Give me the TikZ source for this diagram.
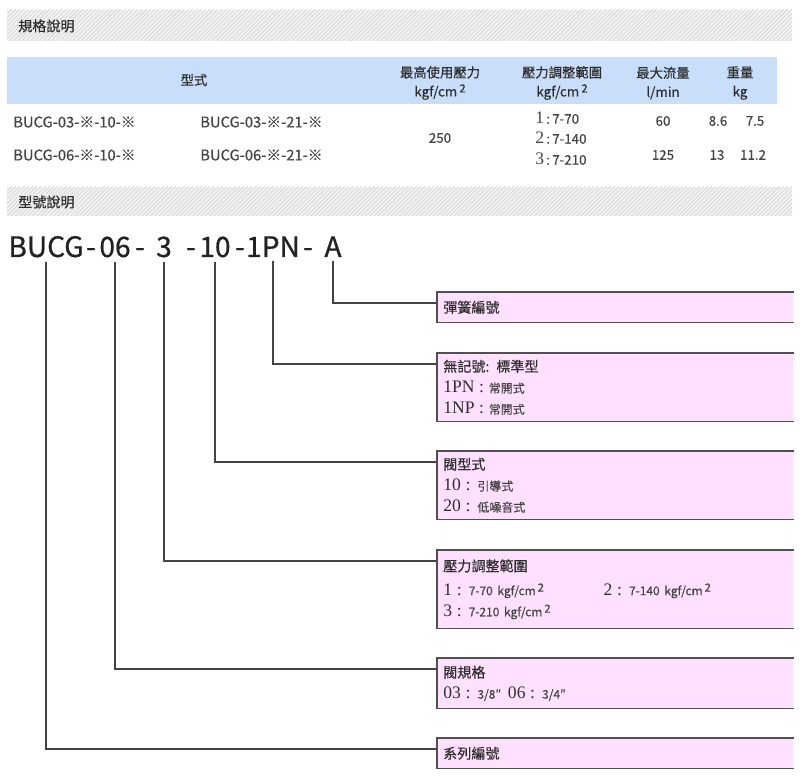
\documentclass[tikz,border=0pt]{standalone}
\usepackage{fontspec}
\setmainfont{Noto Sans CJK TC}[FakeBold=0.35]
\newfontfamily\numfont{Liberation Serif}
\newfontfamily\codefont{Noto Sans CJK TC}[FakeBold=0.8]
\usepackage{tikz}
\usetikzlibrary{positioning, calc, patterns}
\usepackage{xcolor}
\definecolor{hdrblue}{HTML}{C9DEFA}
\definecolor{boxpink}{HTML}{FFE0FE}
\definecolor{bargray}{HTML}{F1F1F1}
\definecolor{txtgray}{HTML}{2E2E2E}
\definecolor{cellgray}{HTML}{444444}
\definecolor{codeblack}{HTML}{222222}
\definecolor{edgegray}{HTML}{505050}
\definecolor{linegray}{HTML}{444444}
\newcommand{\cmsq}{\,\raisebox{0.55ex}{\fontsize{8}{8}\selectfont 2}}
\newcommand{\pfx}[1]{{\numfont\fontsize{12.5}{12.5}\selectfont #1}}
\newcommand{\smalltxt}[1]{{\fontsize{8.5}{10}\selectfont\color{cellgray}#1}}

\begin{document}
\begin{tikzpicture}[x=0.025cm, y=-0.025cm, font=\fontsize{10}{12}\selectfont,
  txt/.style={inner sep=0pt, text=txtgray},
  hdr/.style={txt, align=center, font=\fontsize{9.5}{13.5}\selectfont},
  cell/.style={inner sep=0pt, text=cellgray, font=\fontsize{9.5}{11}\selectfont},
  codepart/.style={inner sep=0pt, inner ysep=3pt, anchor=base, text=codeblack, font=\codefont\fontsize{20}{21}\selectfont},
  sepmark/.style={codepart},
  infobox/.style={fill=boxpink, anchor=north west, inner xsep=0.15cm, inner ysep=0pt,
    text width=8.6cm, align=left, text=txtgray, font=\fontsize{10}{15}\selectfont},
  boxedge/.style={draw=edgegray, line width=1.1pt},
  conn/.style={draw=linegray, line width=0.8pt}]
  \useasboundingbox (0,0) rectangle (800,780);

  % section bar: spec
  \fill[bargray] (7,10) rectangle (792,41);
  \fill[pattern=north east lines, pattern color=gray!35] (7,10) rectangle (792,41);
  \node[txt, anchor=west] (spectitle) at (18,26) {規格說明};

  % table head
  \fill[hdrblue] (7,57) rectangle (777,104);
  \node[hdr] (hmodel) at (194,80) {型式};
  \node[hdr] (hpress) at (440,83) {最高使用壓力\\kgf/cm\cmsq};
  \node[hdr] (hrange) at (562,83) {壓力調整範圍\\kgf/cm\cmsq};
  \node[hdr] (hflow) at (663,83) {最大流量\\l/min};
  \node[hdr] (hweight) at (740,83) {重量\\kg};

  % table body
  \node[cell, anchor=west, font=\fontsize{10.5}{12}\selectfont] (m1) at (13,122) {BUCG-03-※-10-※};
  \node[cell, anchor=west, font=\fontsize{10.5}{12}\selectfont] (m2) at (200,122) {BUCG-03-※-21-※};
  \node[cell, anchor=west, font=\fontsize{10.5}{12}\selectfont] (m3) at (13,155) {BUCG-06-※-10-※};
  \node[cell, anchor=west, font=\fontsize{10.5}{12}\selectfont] (m4) at (200,155) {BUCG-06-※-21-※};
  \node[cell] (pmax) at (440,138) {250};
  \node[cell, anchor=west] (r1) at (535,118) {\pfx{1}\,:\,7-70};
  \node[cell, anchor=west] (r2) at (535,138) {\pfx{2}\,:\,7-140};
  \node[cell, anchor=west] (r3) at (535,159) {\pfx{3}\,:\,7-210};
  \node[cell] (f1) at (663,121) {60};
  \node[cell] (f2) at (663,155) {125};
  \node[cell] (w1) at (718,121) {8.6};
  \node[cell] (w2) at (755,121) {7.5};
  \node[cell] (w3) at (717,155) {13};
  \node[cell] (w4) at (753,155) {11.2};

  % section bar: code
  \fill[bargray] (7,187) rectangle (792,216);
  \fill[pattern=north east lines, pattern color=gray!35] (7,187) rectangle (792,216);
  \node[txt, anchor=west] (codetitle) at (18,202) {型號說明};

  % model code
  \node[codepart] (pseries) at (46,257) {BUCG};
  \node[sepmark] at (91,257) {-};
  \node[codepart] (psize) at (115,257) {06};
  \node[sepmark] at (140,257) {-};
  \node[codepart] (prange) at (164,257) {3};
  \node[sepmark] at (191,257) {-};
  \node[codepart] (ptype) at (215,257) {10};
  \node[sepmark] at (240,257) {-};
  \node[codepart] (pspool) at (273,257) {1PN};
  \node[sepmark] at (308,257) {-};
  \node[codepart] (pspring) at (333,257) {A};

  % explanation boxes
  \node[infobox, minimum height=0.75cm] (bspring) at (437,292) {彈簧編號};
  \node[infobox, minimum height=1.7cm] (bspool) at (437,353)
    {無記號: 標準型\\ \pfx{1PN :} \smalltxt{常開式}\\ \pfx{1NP :} \smalltxt{常開式}};
  \node[infobox, minimum height=1.7cm] (btype) at (437,451)
    {閥型式\\ \pfx{10 :} \smalltxt{引導式}\\ \pfx{20 :} \smalltxt{低噪音式}};
  \node[infobox, minimum height=1.95cm] (brange) at (437,550)
    {壓力調整範圍\\[2pt]
     \makebox[114pt][l]{\pfx{1 :} \smalltxt{7-70 kgf/cm\cmsq}}\pfx{2 :} \smalltxt{7-140 kgf/cm\cmsq}\\
     \pfx{3 :} \smalltxt{7-210 kgf/cm\cmsq}};
  \node[infobox, minimum height=1.25cm] (bsize) at (437,658)
    {閥規格\\ \makebox[46pt][l]{\pfx{03 :} \smalltxt{3/8″}}\pfx{06 :} \smalltxt{3/4″}};
  \node[infobox, minimum height=0.75cm] (bseries) at (437,738) {系列編號};
  \foreach \b in {bspring, bspool, btype, brange, bsize, bseries}
    \draw[boxedge] (\b.north east) -- (\b.north west) -- (\b.south west) -- (\b.south east);

  % leaders
  \foreach \p/\b in {pspring/bspring, pspool/bspool, ptype/btype, prange/brange, psize/bsize, pseries/bseries}
    \draw[conn] (\p.south) |- ($(\b.north west)+(0,11)$);
\end{tikzpicture}
\end{document}
